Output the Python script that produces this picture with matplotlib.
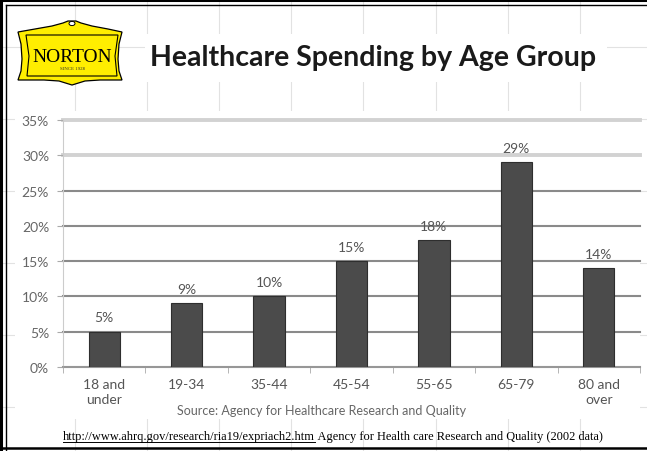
import matplotlib.pyplot as plt
from matplotlib.patches import Polygon, Rectangle, Circle
from matplotlib.lines import Line2D
import numpy as np

# spending share by age group (2002)
groups = ['18 and\nunder', '19-34', '35-44', '45-54', '55-65', '65-79', '80 and\nover']
share = [5, 9, 10, 15, 18, 29, 14]
yticks = [0, 5, 10, 15, 20, 25, 30, 35]

W, H = 647, 452
fig = plt.figure(figsize=(W / 100, H / 100), dpi=100)
fig.patch.set_facecolor('white')


def px(x, y):
    # pixel coords (top-left origin) -> figure fraction
    return x / W, 1 - y / H


# faint slide grid
for gx in [75, 147, 219, 291, 363, 436, 508, 580]:
    fig.add_artist(Line2D([gx / W, gx / W], [0, 1], color='#e2e2e2', lw=0.8, zorder=0))
for gy in [48, 120, 192, 264, 336, 408]:
    fig.add_artist(Line2D([0, 1], [1 - gy / H, 1 - gy / H], color='#e2e2e2', lw=0.8, zorder=0))

# white boxes under title and chart
x0, y0 = px(145, 83)
fig.add_artist(Rectangle((x0, y0), 462 / W, 48 / H, facecolor='white', edgecolor='none', zorder=1))
x0, y0 = px(15, 420)
fig.add_artist(Rectangle((x0, y0), 625 / W, 308 / H, facecolor='white', edgecolor='none', zorder=1))

# double border
fig.add_artist(Line2D([1 / W, 1 / W], [0, 1], color='black', lw=2.2, zorder=5))
fig.add_artist(Line2D([0, 1], [1 - 1 / H, 1 - 1 / H], color='black', lw=2.2, zorder=5))
fig.add_artist(Line2D([5.5 / W, 5.5 / W], [0, 1 - 5.5 / H], color='black', lw=1, zorder=5))
fig.add_artist(Line2D([5.5 / W, 1], [1 - 5.5 / H, 1 - 5.5 / H], color='black', lw=1, zorder=5))
fig.add_artist(Line2D([0, 1], [1 - 448.5 / H, 1 - 448.5 / H], color='black', lw=1.8, zorder=5))

# logo
shield = [(18, 33), (35, 30), (52, 27), (63, 24), (68, 22), (76, 22), (81, 24),
          (92, 27), (108, 30), (122, 33), (119, 45), (118, 60), (119, 72), (122, 81),
          (100, 81), (85, 82), (72, 86), (59, 82), (44, 81), (18, 81), (21, 72),
          (22, 60), (21, 45)]
fig.add_artist(Polygon([px(x, y) for x, y in shield], closed=True, facecolor='#ffee00',
                       edgecolor='black', lw=0.9, zorder=6))
fig.add_artist(Circle(px(72, 24.5), 3 / W, facecolor='white', edgecolor='black', lw=0.7, zorder=7))
inner = [(26, 36), (118, 36), (115, 57), (117, 77), (27, 77), (29, 57)]
fig.add_artist(Polygon([px(x, y) for x, y in inner], closed=True, facecolor='none',
                       edgecolor='black', lw=0.8, zorder=7))
fig.text(*px(72, 57), 'NORTON', family='Liberation Serif', fontsize=14, color='black',
         ha='center', va='center', zorder=8)
fig.text(*px(72, 69.5), 'SINCE 1928', family='Liberation Serif', fontsize=3.5, color='#333333',
         ha='center', va='center', zorder=8)

# title
fig.text(*px(150, 58), 'Healthcare Spending by Age Group', family='Lato', fontweight='bold',
         fontsize=20.5, color='#1a1a1a', ha='left', va='center', zorder=8)

# chart
ax = fig.add_axes([63 / W, 1 - 368 / H, 577 / W, 247 / H], zorder=3)
ax.set_facecolor('none')
x = np.arange(len(groups))
bars = ax.bar(x, share, width=0.38, color='#4b4b4b', edgecolor='#2e2e2e', lw=0.8, zorder=3)
for xi, v in zip(x, share):
    ax.text(xi, v + 1.2, f'{v}%', ha='center', va='bottom', family='Lato', fontsize=10,
            color='#555555')

ax.set_xlim(-0.5, len(groups) - 0.5)
ax.set_ylim(0, 35)
ax.set_yticks(yticks)
ax.set_yticklabels([f'{t}%' for t in yticks], family='Lato', fontsize=10, color='#666666')
ax.set_xticks(x)
ax.set_xticklabels(groups, family='Lato', fontsize=10, color='#555555', linespacing=1.3)
ax.set_xticks(np.arange(-0.5, len(groups)), minor=True)
ax.tick_params(axis='x', which='major', length=0, pad=8)
ax.tick_params(axis='x', which='minor', length=4, color='#aaaaaa', direction='out')
ax.tick_params(axis='y', length=4, color='#aaaaaa', pad=6)

ax.yaxis.grid(True, color='#8a8a8a', lw=1.5, zorder=1)
for t, gl in zip(yticks, ax.get_ygridlines()):
    gl.set_clip_on(False)
    if t >= 30:
        gl.set_color('#d2d2d2')
        gl.set_linewidth(2.8)
ax.set_axisbelow(True)
for s in ['top', 'right']:
    ax.spines[s].set_visible(False)
ax.spines['left'].set_color('#cccccc')
ax.spines['bottom'].set_color('#9a9a9a')
ax.spines['bottom'].set_linewidth(1.2)

fig.text(*px(322, 411), 'Source: Agency for Healthcare Research and Quality', family='Lato',
         fontsize=9, color='#666666', ha='center', va='center', zorder=8)

# reference line with underlined link
fig.canvas.draw()
r = fig.canvas.get_renderer()
link = fig.text(*px(63, 437), 'http://www.ahrq.gov/research/ria19/expriach2.htm',
                family='Liberation Serif', fontsize=8.9, color='black', ha='left',
                va='center', zorder=8)
bb = link.get_window_extent(renderer=r)
lx1 = bb.x1 / fig.bbox.width
fig.add_artist(Line2D([63 / W, lx1], [1 - 442.5 / H, 1 - 442.5 / H], color='black', lw=0.7, zorder=8))
fig.text(lx1, 1 - 437 / H, ' Agency for Health care Research and Quality (2002 data)',
         family='Liberation Serif', fontsize=8.9, color='black', ha='left', va='center', zorder=8)

fig.savefig('out.png', dpi=100)
